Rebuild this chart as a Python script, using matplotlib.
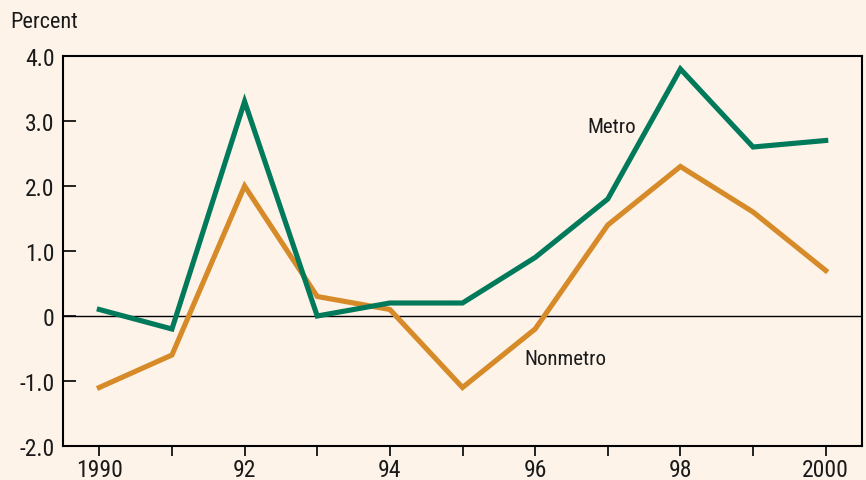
import matplotlib
matplotlib.use("Agg")
import matplotlib.pyplot as plt
from matplotlib import font_manager

years = [1990, 1991, 1992, 1993, 1994, 1995, 1996, 1997, 1998, 1999, 2000]
metro = [0.1, -0.2, 3.3, 0.0, 0.2, 0.2, 0.9, 1.8, 3.8, 2.6, 2.7]
nonmetro = [-1.1, -0.6, 2.0, 0.3, 0.1, -1.1, -0.2, 1.4, 2.3, 1.6, 0.7]
x_ticks = [1990, 1991, 1992, 1993, 1994, 1995, 1996, 1997, 1998, 1999, 2000]
x_labels = ["1990", "", "92", "", "94", "", "96", "", "98", "", "2000"]
y_ticks = [-2, -1, 0, 1, 2, 3, 4]
y_labels = ["-2.0", "-1.0", "0", "1.0", "2.0", "3.0", "4.0"]

bg = "#fdf3e9"
green = "#007a5a"
orange = "#d68a28"

# prefer a narrow face if one is installed
names = {f.name for f in font_manager.fontManager.ttflist}
fam = "Roboto"
for cand in ["Liberation Sans Narrow", "DejaVu Sans Condensed", "Roboto Condensed"]:
    if cand in names:
        fam = cand
        break
plt.rcParams['font.family'] = [fam, 'DejaVu Sans']

fig = plt.figure(figsize=(8.66, 4.81), dpi=100, facecolor=bg)
ax = fig.add_axes([63 / 866, 1 - 447 / 481, (862 - 63) / 866, (447 - 57) / 481])
ax.set_facecolor(bg)

ax.axhline(0, color="black", lw=1.0, zorder=1)
ax.plot(years, metro, color=green, lw=3.7, solid_joinstyle="miter", zorder=3)
ax.plot(years, nonmetro, color=orange, lw=3.7, solid_joinstyle="miter", zorder=2)

ax.set_xlim(1989.5, 2000.5)
ax.set_ylim(-2, 4)
ax.set_xticks(x_ticks)
ax.set_xticklabels(x_labels, fontsize=17, color="#1a1a1a")
ax.set_yticks(y_ticks)
ax.set_yticklabels(y_labels, fontsize=17, color="#1a1a1a")
ax.tick_params(axis="x", direction="out", length=7, width=1.2, pad=2)
ax.tick_params(axis="y", direction="in", length=9, width=1.2, pad=6)
for s in ax.spines.values():
    s.set_linewidth(1.5)

ax.text(1997.06, 2.92, "Metro", fontsize=15, ha="center", va="center", color="#1a1a1a")
ax.text(1996.42, -0.66, "Nonmetro", fontsize=15, ha="center", va="center", color="#1a1a1a")
fig.text(10 / 866, 1 - 22 / 481, "Percent", fontsize=16, ha="left", va="center", color="#1a1a1a")

fig.savefig("out.png", dpi=100, facecolor=bg)
